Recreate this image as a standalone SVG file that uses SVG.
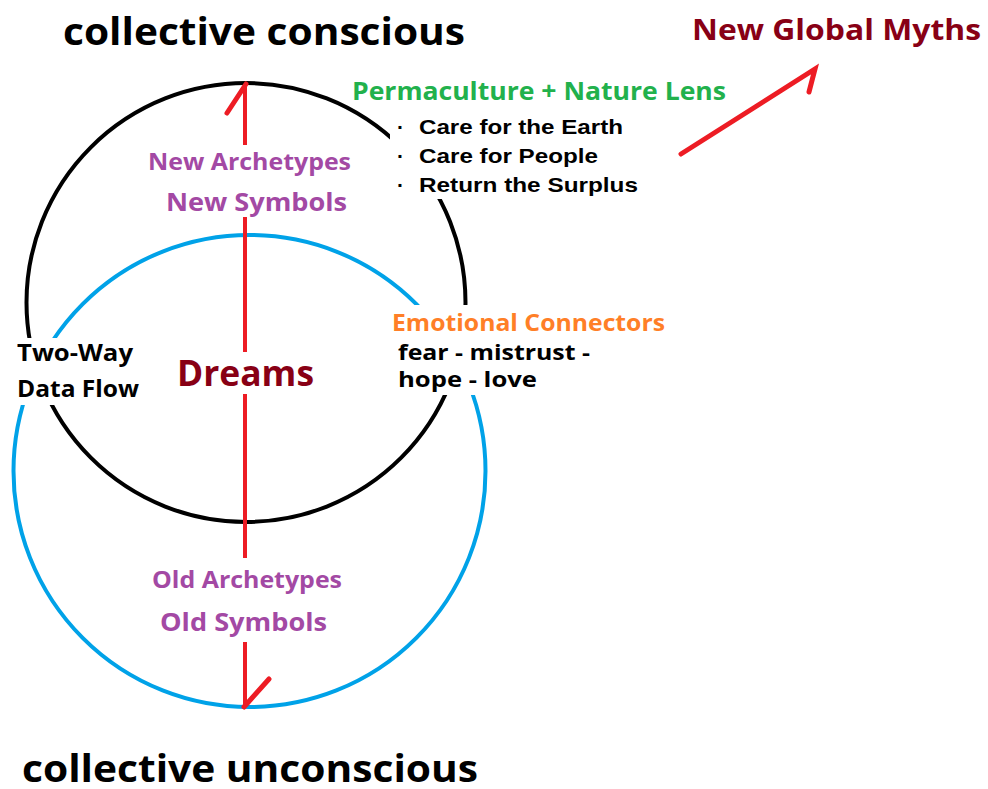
<svg xmlns="http://www.w3.org/2000/svg" width="988" height="789" viewBox="0 0 988 789">
<style>
.t{font-family:"Open Sans","Liberation Sans",sans-serif;font-weight:bold}
.a{font-family:"Liberation Sans",Arial,sans-serif;font-weight:bold;font-size:21px;fill:#000}
.purple{fill:#a349a4}
.dred{fill:#880015}
.red{stroke:#ed1c24;stroke-width:5;fill:none;stroke-linecap:round}
.bg{fill:#fff}
</style>
<rect width="988" height="789" fill="#fff"/>
<g id="circles">
<circle id="conscious-circle" cx="246" cy="302.5" r="219.5" fill="none" stroke="#000" stroke-width="4"/>
<circle id="unconscious-circle" cx="249.5" cy="471" r="236" fill="none" stroke="#00a2e8" stroke-width="4"/>
</g>
<g id="connectors">
<line class="red" x1="245" y1="85" x2="245" y2="707" style="stroke-linecap:butt;stroke-width:4"/>
<polyline class="red" points="227,113 246,84"/>
<polyline class="red" points="269,679 244,707"/>
<polyline class="red" points="681,154 815,69 809,92"/>
</g>
<g id="title-conscious"><text class="t" x="63" y="45" font-size="38" textLength="402" lengthAdjust="spacingAndGlyphs">collective conscious</text></g>
<g id="title-unconscious"><text class="t" x="22" y="782" font-size="37" textLength="456" lengthAdjust="spacingAndGlyphs">collective unconscious</text></g>
<g id="myths"><text class="t dred" x="692" y="40" font-size="29" textLength="289" lengthAdjust="spacingAndGlyphs">New Global Myths</text></g>
<g id="permaculture">
<text class="t" x="352" y="100" font-size="25" fill="#22b14c" textLength="374" lengthAdjust="spacingAndGlyphs">Permaculture + Nature Lens</text>
<rect class="bg" x="390" y="113" width="255" height="86"/>
<text class="a" x="397" y="134">·</text>
<text class="a" x="419" y="134" textLength="204" lengthAdjust="spacingAndGlyphs">Care for the Earth</text>
<text class="a" x="397" y="163">·</text>
<text class="a" x="419" y="163" textLength="179" lengthAdjust="spacingAndGlyphs">Care for People</text>
<text class="a" x="397" y="192">·</text>
<text class="a" x="419" y="192" textLength="219" lengthAdjust="spacingAndGlyphs">Return the Surplus</text>
</g>
<g id="new-archetypes">
<rect class="bg" x="145" y="145" width="210" height="72"/>
<text class="t purple" x="148" y="170" font-size="23" textLength="203" lengthAdjust="spacingAndGlyphs">New Archetypes</text>
<text class="t purple" x="166" y="211" font-size="25" textLength="181" lengthAdjust="spacingAndGlyphs">New Symbols</text>
</g>
<g id="two-way">
<rect class="bg" x="10" y="338" width="135" height="67"/>
<text class="t" x="17" y="361" font-size="23" fill="#000" textLength="116" lengthAdjust="spacingAndGlyphs">Two-Way</text>
<text class="t" x="17" y="397" font-size="23" fill="#000" textLength="122" lengthAdjust="spacingAndGlyphs">Data Flow</text>
</g>
<g id="dreams">
<rect class="bg" x="172" y="352" width="146" height="42"/>
<text class="t dred" x="177" y="386" font-size="35" textLength="137" lengthAdjust="spacingAndGlyphs">Dreams</text>
</g>
<g id="emotional">
<rect class="bg" x="388" y="305" width="282" height="90"/>
<text class="t" x="392" y="331" font-size="23" fill="#ff7f27" textLength="273" lengthAdjust="spacingAndGlyphs">Emotional Connectors</text>
<text class="t" x="398" y="360" font-size="22" fill="#000" textLength="192" lengthAdjust="spacingAndGlyphs">fear - mistrust -</text>
<text class="t" x="398" y="387" font-size="22" fill="#000" textLength="139" lengthAdjust="spacingAndGlyphs">hope - love</text>
</g>
<g id="old-archetypes">
<rect class="bg" x="148" y="558" width="198" height="84"/>
<text class="t purple" x="152" y="588" font-size="23" textLength="190" lengthAdjust="spacingAndGlyphs">Old Archetypes</text>
<text class="t purple" x="160" y="631" font-size="25" textLength="167" lengthAdjust="spacingAndGlyphs">Old Symbols</text>
</g>
</svg>
